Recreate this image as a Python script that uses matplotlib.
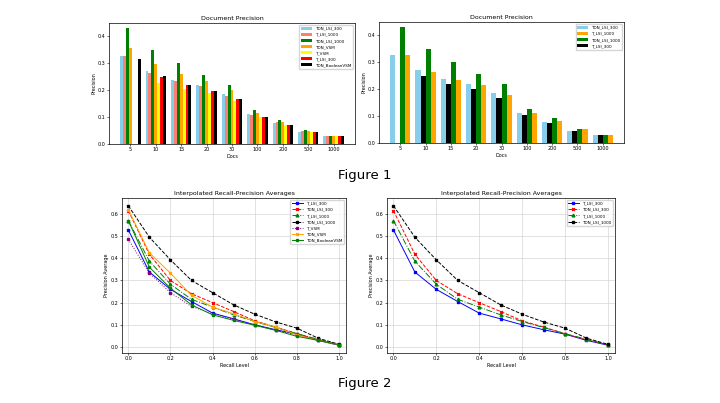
import matplotlib.pyplot as plt
import numpy as np

docs = ['5', '10', '15', '20', '30', '100', '200', '500', '1000']

# top-left bars
bar_names_a = ['TDN_LSI_300', 'T_LSI_1000', 'TDN_LSI_1000', 'TDN_VSM', 'T_VSM', 'T_LSI_300', 'TDN_BooleanVSM']
bar_colors_a = ['#87ceeb', '#fa8072', 'green', 'orange', 'yellow', 'red', 'black']
bar_vals_a = [
    [.325, .272, .237, .218, .185, .112, .076, .046, .028],
    [.325, .263, .232, .216, .178, .108, .080, .048, .029],
    [.430, .347, .300, .257, .218, .127, .090, .052, .029],
    [.355, .295, .261, .233, .200, .114, .080, .047, .029],
    [0, .226, .205, .189, .160, .100, .070, .045, .029],
    [0, .248, .217, .198, .165, .101, .071, .044, .028],
    [.315, .253, .220, .198, .166, .100, .070, .043, .028],
]

# top-right bars (drawing order), legend order differs
bar_names_b = ['TDN_LSI_300', 'T_LSI_300', 'TDN_LSI_1000', 'T_LSI_1000']
bar_colors_b = ['#87ceeb', 'black', 'green', 'orange']
bar_vals_b = [
    [.325, .272, .237, .218, .185, .112, .077, .045, .028],
    [0, .248, .220, .199, .165, .104, .073, .044, .028],
    [.430, .347, .300, .257, .220, .127, .092, .052, .030],
    [.325, .262, .232, .215, .177, .110, .082, .050, .030],
]
legend_order_b = [0, 3, 2, 1]

recall = [0.0, 0.1, 0.2, 0.3, 0.4, 0.5, 0.6, 0.7, 0.8, 0.9, 1.0]
line_names = ['T_LSI_300', 'TDN_LSI_300', 'T_LSI_1000', 'TDN_LSI_1000', 'T_VSM', 'TDN_VSM', 'TDN_BooleanVSM']
line_vals = [
    [.528, .338, .260, .205, .153, .127, .100, .078, .058, .030, .008],
    [.615, .418, .300, .240, .200, .160, .118, .090, .060, .033, .010],
    [.570, .387, .283, .215, .180, .145, .115, .088, .060, .035, .010],
    [.637, .495, .393, .300, .245, .190, .148, .113, .085, .040, .012],
    [.485, .333, .245, .183, .150, .125, .100, .075, .055, .030, .008],
    [.620, .425, .333, .233, .180, .150, .115, .090, .055, .030, .010],
    [.570, .360, .265, .190, .145, .120, .098, .075, .048, .030, .010],
]
line_styles = [('blue', '-', 's'), ('red', '--', 'x'), ('green', '-.', '^'), ('black', '--', 's'),
               ('purple', ':', 's'), ('orange', '-', 'x'), ('green', '-', 's')]

fig = plt.figure(figsize=(7.2, 4.03), dpi=100)
W, H = 720, 403


def add_ax(l, t, r, b):
    return fig.add_axes([l / W, 1 - b / H, (r - l) / W, (b - t) / H])


def bars(ax, names, colors, vals):
    n = len(names)
    x = np.arange(len(docs))
    w = 0.8 / n
    handles = []
    for i in range(n):
        h = ax.bar(x - 0.4 + w * (i + 0.5), vals[i], w, color=colors[i], label=names[i])
        handles.append(h)
    ax.set_xticks(x, docs)
    ax.set_title('Document Precision', fontsize=4.5, pad=2)
    ax.set_xlabel('Docs', fontsize=3.5, labelpad=1)
    ax.set_ylabel('Precision', fontsize=3.5, labelpad=1)
    ax.set_ylim(0, 0.448)
    ax.set_yticks([0, .1, .2, .3, .4])
    ax.tick_params(labelsize=3.5, length=1.5, width=0.4, pad=1)
    for s in ax.spines.values():
        s.set_linewidth(0.5)
    return handles


ax1 = add_ax(109, 23, 355, 144)
bars(ax1, bar_names_a, bar_colors_a, bar_vals_a)
ax1.legend(fontsize=3, loc='upper right', frameon=True, handlelength=2.5)

ax2 = add_ax(379, 22, 624, 143)
hb = bars(ax2, bar_names_b, bar_colors_b, bar_vals_b)
ax2.legend([hb[i] for i in legend_order_b], [bar_names_b[i] for i in legend_order_b],
           fontsize=3, loc='upper right', handlelength=2.5)


def lines(ax, k):
    for i in range(k):
        c, ls, m = line_styles[i]
        ax.plot(recall, line_vals[i], color=c, linestyle=ls, marker=m, markersize=2,
                linewidth=0.7, label=line_names[i])
    ax.set_title('Interpolated Recall-Precision Averages', fontsize=4.5, pad=2)
    ax.set_xlabel('Recall Level', fontsize=3.5, labelpad=1)
    ax.set_ylabel('Precision Average', fontsize=3.5, labelpad=1)
    ax.set_xticks([0, .2, .4, .6, .8, 1.0])
    ax.set_yticks([0, .1, .2, .3, .4, .5, .6])
    ax.set_ylim(-0.027, 0.672)
    ax.set_xlim(-0.03, 1.033)
    ax.grid(True, linewidth=0.4, color='#cccccc')
    ax.tick_params(labelsize=3.5, length=1.5, width=0.4, pad=1)
    for s in ax.spines.values():
        s.set_linewidth(0.5)
    ax.legend(fontsize=3, loc='upper right', handlelength=2.5)


lines(add_ax(122, 198, 346, 353), 7)
lines(add_ax(387, 198, 615, 353), 4)

fig.text(365 / W, 1 - 175 / H, 'Figure 1', ha='center', va='center', fontsize=9.5)
fig.text(365 / W, 1 - 383 / H, 'Figure 2', ha='center', va='center', fontsize=9.5)

fig.savefig('out.png', dpi=100)
